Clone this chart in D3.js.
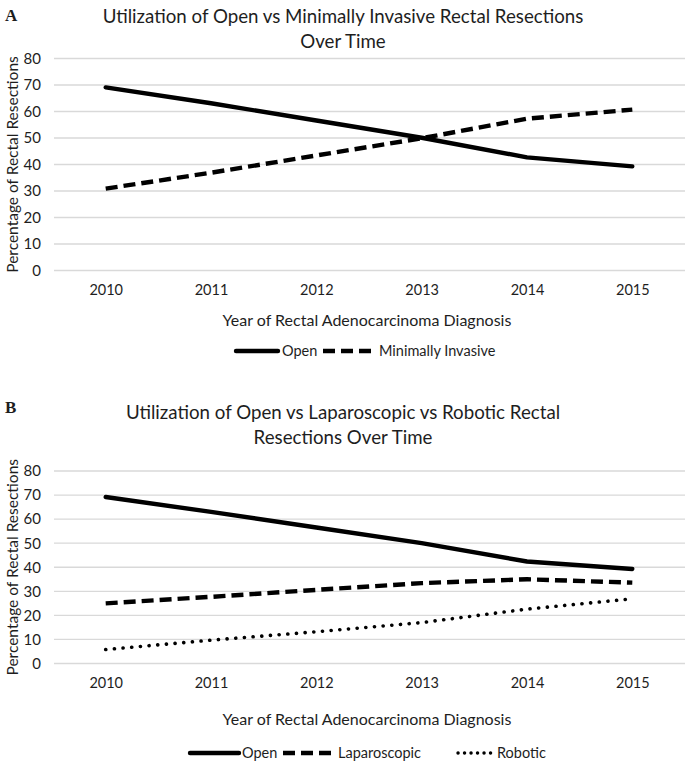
<!DOCTYPE html>
<html><head><meta charset="utf-8">
<script src="https://cdn.jsdelivr.net/npm/d3@7"></script>
<style>
html,body{margin:0;padding:0;background:#fff;}
text{font-family:Lato,"Open Sans",sans-serif;fill:#1e1e1e;}
</style></head>
<body><svg id="c" width="685" height="762"></svg>
<script>
const years = ["2010","2011","2012","2013","2014","2015"];
const yTicks = [0,10,20,30,40,50,60,70,80];
// Panel A
const openA = [69.1, 63.1, 56.6, 50.1, 42.7, 39.3];
const miA   = [30.9, 36.9, 43.4, 49.9, 57.3, 60.7];
// Panel B
const openB = [69.2, 63.0, 56.5, 50.0, 42.4, 39.3];
const lapB  = [25.0, 27.7, 30.6, 33.4, 35.0, 33.6];
const robB  = [5.8, 9.7, 13.2, 17.0, 22.6, 26.9];

const svg = d3.select("#c");
const styles = {
  solid:  {w:4.4, dash:null, cap:"round"},
  dashed: {w:4.4, dash:"12,6", cap:"butt"},
  dotted: {w:3.6, dash:"0.1,8.6", cap:"round"},
  dottedLeg: {w:3.4, dash:"0.1,6.4", cap:"round"}
};

function panel(o){
  const g = svg.append("g");
  const x = d3.scalePoint().domain(years).range([105.7, 632.3]);
  const y = d3.scaleLinear().domain([0,80]).range([o.y0, o.y80]);
  g.append("g").selectAll("line").data(yTicks).join("line")
    .attr("x1",54).attr("x2",685).attr("y1",d=>y(d)).attr("y2",d=>y(d))
    .attr("stroke","#d9d9d9").attr("stroke-width",1.3);
  const ya = g.append("g").attr("transform","translate(53,0)")
    .call(d3.axisLeft(y).tickValues(yTicks).tickSize(0).tickPadding(12));
  ya.select(".domain").remove();
  ya.selectAll("text").style("font-family","Lato,sans-serif").style("font-size","15px").attr("fill","#1e1e1e");
  const xa = g.append("g").attr("transform",`translate(0,${o.y0})`)
    .call(d3.axisBottom(x).tickSize(0).tickPadding(14));
  xa.select(".domain").remove();
  xa.selectAll("text").style("font-family","Lato,sans-serif").style("font-size","14.5px").attr("fill","#1e1e1e");
  const line = d3.line().x((d,i)=>x(years[i])).y(d=>y(d));
  o.series.forEach(s=>{
    const st = styles[s.style];
    g.append("path").datum(s.values).attr("d",line).attr("fill","none")
      .attr("stroke","#000").attr("stroke-width",st.w)
      .attr("stroke-dasharray",st.dash).attr("stroke-linecap",st.cap)
      .attr("stroke-linejoin","round");
  });
  o.title.forEach((t,i)=>{
    g.append("text").attr("x",343).attr("y",o.titleY+i*24.5).attr("text-anchor","middle")
      .style("font-size","18.7px").text(t);
  });
  g.append("text").attr("x",5).attr("y",o.labelY).text(o.label)
    .style("font-family","'Liberation Serif',serif").style("font-weight","bold").style("font-size","17px").attr("fill","#000");
  g.append("text").attr("transform",`translate(18,${(o.y0+o.y80)/2}) rotate(-90)`)
    .attr("text-anchor","middle").style("font-size","15.5px").text("Percentage of Rectal Resections");
  g.append("text").attr("x",367).attr("y",o.xTitleY).attr("text-anchor","middle")
    .style("font-size","16px").text("Year of Rectal Adenocarcinoma Diagnosis");
  o.legend.forEach(l=>{
    const st = styles[l.style];
    g.append("line").attr("x1",l.x1).attr("x2",l.x2).attr("y1",o.legY).attr("y2",o.legY)
      .attr("stroke","#000").attr("stroke-width",st.w).attr("stroke-dasharray",st.dash).attr("stroke-linecap",st.cap);
    g.append("text").attr("x",l.tx).attr("y",o.legY+5).style("font-size","14.5px").text(l.text);
  });
}

panel({
  y0:270.5, y80:58.5, titleY:23, labelY:21, label:"A", xTitleY:326, legY:351,
  title:["Utilization of Open vs Minimally Invasive Rectal Resections","Over Time"],
  series:[{values:openA, style:"solid"},{values:miA, style:"dashed"}],
  legend:[{x1:236,x2:278,tx:282,text:"Open",style:"solid"},
          {x1:323,x2:374,tx:379,text:"Minimally Invasive",style:"dashed"}]
});
panel({
  y0:663.5, y80:471, titleY:419, labelY:413, label:"B", xTitleY:725, legY:753,
  title:["Utilization of Open vs Laparoscopic vs Robotic Rectal","Resections Over Time"],
  series:[{values:openB, style:"solid"},{values:lapB, style:"dashed"},{values:robB, style:"dotted"}],
  legend:[{x1:190,x2:239,tx:242,text:"Open",style:"solid"},
          {x1:283,x2:331,tx:338,text:"Laparoscopic",style:"dashed"},
          {x1:458,x2:491,tx:497,text:"Robotic",style:"dottedLeg"}]
});
</script></body></html>
